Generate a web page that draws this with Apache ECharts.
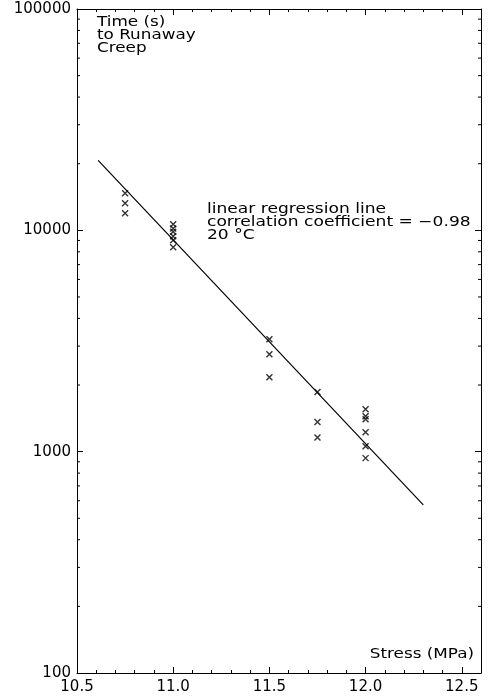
<!DOCTYPE html>
<html>
<head>
<meta charset="utf-8">
<script src="https://cdn.jsdelivr.net/npm/echarts@6/dist/echarts.min.js"></script>
<style>
  html, body { margin: 0; padding: 0; background: #fff; }
  #chart { width: 492px; height: 700px; }
</style>
</head>
<body>
<div id="chart"></div>
<script>
// measured points: stress (MPa) vs time (s) to runaway creep
const stressMPa = [10.75, 10.75, 10.75,
    11.0, 11.0, 11.0, 11.0, 11.0, 11.0,
    11.5, 11.5, 11.5,
    11.75, 11.75, 11.75,
    12.0, 12.0, 12.0, 12.0, 12.0, 12.0]
const timeSec = [14700, 13250, 11950,
    10650, 10200, 9860, 9400, 9020, 8380,
    3220, 2755, 2170,
    1860, 1360, 1160,
    1556, 1446, 1402, 1225, 1059, 935]

// regression line end points
const fitStress = [10.61, 12.30]
const fitTime = [20700, 575]

const yMinorTicks = [200, 300, 400, 500, 600, 700, 800, 900,
    2000, 3000, 4000, 5000, 6000, 7000, 8000, 9000,
    20000, 30000, 40000, 50000, 60000, 70000, 80000, 90000]

const font = 'DejaVu Sans'
const black = '#000'

var chart = echarts.init(document.getElementById('chart'))

function xAxisCfg(pos, interval, tickLen, labels, line) {
    return {
        type: 'value',
        position: pos,
        min: 10.5,
        max: 12.6,
        interval: interval,
        axisLine: { show: line, lineStyle: { color: black, width: 1 } },
        axisTick: { show: true, inside: true, length: tickLen, lineStyle: { color: black } },
        axisLabel: {
            show: labels,
            showMaxLabel: false,
            color: black,
            fontFamily: font,
            fontSize: 15,
            margin: 7,
            formatter: v => v.toFixed(1)
        },
        splitLine: { show: false }
    }
}

function yAxisCfg(pos, labels) {
    return {
        type: 'log',
        logBase: 10,
        position: pos,
        min: 100,
        max: 100000,
        axisLine: { show: true, lineStyle: { color: black, width: 1 } },
        axisTick: { show: true, inside: true, length: 6, lineStyle: { color: black } },
        axisLabel: {
            show: labels,
            color: black,
            fontFamily: font,
            fontSize: 15,
            margin: 6,
            formatter: v => String(Math.round(v))
        },
        splitLine: { show: false }
    }
}

var option = {
    animation: false,
    backgroundColor: '#fff',
    grid: { left: 77, right: 11, top: 9, bottom: 27 },
    xAxis: [
        xAxisCfg('bottom', 0.5, 6, true, true),
        xAxisCfg('bottom', 0.1, 3, false, false),
        xAxisCfg('top', 0.5, 6, false, true),
        xAxisCfg('top', 0.1, 3, false, false)
    ],
    yAxis: [
        yAxisCfg('left', true),
        yAxisCfg('right', false)
    ],
    series: [
        {
            type: 'scatter',
            data: stressMPa.map((s, i) => [s, timeSec[i]]),
            symbol: 'path://M0,0L10,10M10,0L0,10',
            symbolSize: 6,
            itemStyle: { color: 'none', borderColor: black, borderWidth: 1.4 }
        },
        {
            type: 'line',
            data: fitStress.map((s, i) => [s, fitTime[i]]),
            symbol: 'none',
            lineStyle: { color: black, width: 1.2 }
        },
        {
            // logarithmic minor ticks on left and right frame
            type: 'custom',
            data: yMinorTicks.map(v => [10.5, v]),
            silent: true,
            renderItem: function (params, api) {
                var p = api.coord([10.5, api.value(1)])
                var cs = params.coordSys
                var right = cs.x + cs.width
                return {
                    type: 'group',
                    children: [
                        { type: 'line', shape: { x1: cs.x, y1: p[1], x2: cs.x + 3, y2: p[1] }, style: { stroke: black, lineWidth: 1 } },
                        { type: 'line', shape: { x1: right, y1: p[1], x2: right - 3, y2: p[1] }, style: { stroke: black, lineWidth: 1 } }
                    ]
                }
            }
        }
    ],
    graphic: [
        {
            type: 'text',
            x: 97,
            y: 16,
            scaleX: 1.2,
            style: {
                text: 'Time (s)\nto Runaway\nCreep',
                font: '14px ' + font,
                lineHeight: 13,
                verticalAlign: 'top',
                fill: black
            }
        },
        {
            type: 'text',
            x: 207,
            y: 203,
            scaleX: 1.22,
            style: {
                text: 'linear regression line\ncorrelation coefficient = \u22120.98\n20 \u00b0C',
                font: '14px ' + font,
                lineHeight: 12.8,
                verticalAlign: 'top',
                fill: black
            }
        },
        {
            type: 'text',
            x: 474,
            y: 647,
            scaleX: 1.2,
            style: {
                text: 'Stress (MPa)',
                font: '14px ' + font,
                align: 'right',
                verticalAlign: 'top',
                fill: black
            }
        }
    ]
}

chart.setOption(option)
</script>
</body>
</html>
